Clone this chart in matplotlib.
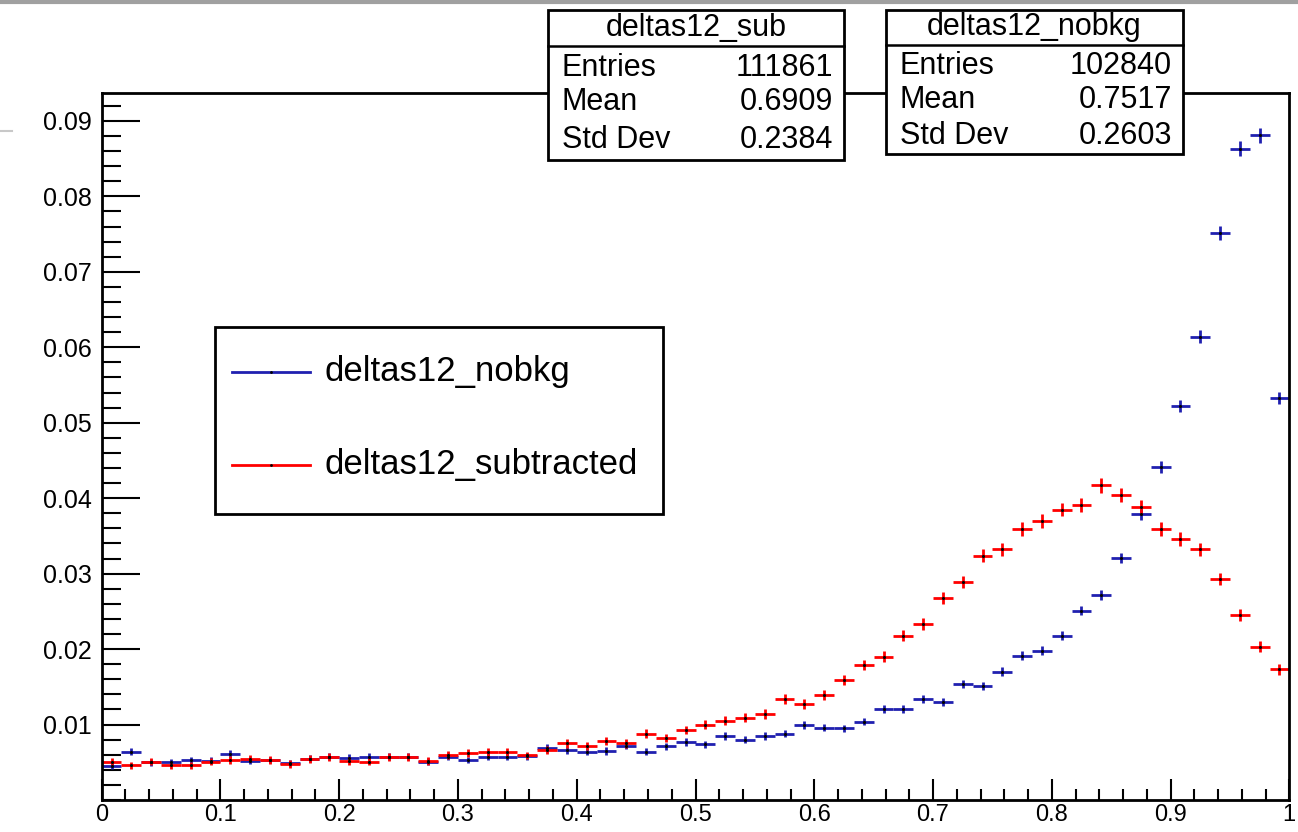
# %%

import numpy as np
import matplotlib
matplotlib.use("Agg")
import matplotlib.pyplot as plt
from matplotlib.patches import Rectangle
from matplotlib.lines import Line2D
from matplotlib.ticker import MultipleLocator

plt.rcParams["font.family"] = ["Liberation Sans", "DejaVu Sans"]
# %%

# 60 bins between 0 and 1, normalised contents
n_bins = 60
x_range = (0.0, 1.0)

nobkg = [0.0045, 0.0064, 0.0050, 0.0050, 0.0053, 0.0052, 0.0061, 0.0052, 0.0053, 0.0049,
         0.0055, 0.0057, 0.0056, 0.0057, 0.0057, 0.0057, 0.0051, 0.0057, 0.0053, 0.0057,
         0.0057, 0.0058, 0.0069, 0.0066, 0.0064, 0.0065, 0.0072, 0.0064, 0.0071, 0.0077,
         0.0074, 0.0085, 0.0080, 0.0085, 0.0088, 0.0099, 0.0096, 0.0095, 0.0104, 0.0120,
         0.0120, 0.0134, 0.0130, 0.0154, 0.0151, 0.0170, 0.0191, 0.0198, 0.0218, 0.0251,
         0.0272, 0.0321, 0.0379, 0.0441, 0.0522, 0.0614, 0.0751, 0.0863, 0.0881, 0.0533]

subtracted = [0.0051, 0.0046, 0.0051, 0.0046, 0.0046, 0.0051, 0.0053, 0.0055, 0.0053, 0.0048,
              0.0054, 0.0057, 0.0052, 0.0051, 0.0057, 0.0057, 0.0052, 0.0060, 0.0062, 0.0064,
              0.0064, 0.0059, 0.0066, 0.0075, 0.0071, 0.0078, 0.0075, 0.0088, 0.0082, 0.0093,
              0.0100, 0.0105, 0.0109, 0.0114, 0.0134, 0.0127, 0.0139, 0.0159, 0.0179, 0.0190,
              0.0218, 0.0233, 0.0268, 0.0289, 0.0324, 0.0332, 0.0359, 0.0370, 0.0385, 0.0391,
              0.0417, 0.0404, 0.0388, 0.0359, 0.0346, 0.0332, 0.0293, 0.0245, 0.0203, 0.0173]

entries_nobkg = 102840
entries_sub = 111861
err_floor = 0.0004  # weights make the small bins' errors bigger than plain poisson

stat_labels = ["Entries", "Mean", "Std Dev"]
stat_sub = ["111861", "0.6909", "0.2384"]
stat_nobkg = ["102840", "0.7517", "0.2603"]

legend_labels = ["deltas12_nobkg", "deltas12_subtracted"]

x_ticks = [0, 0.1, 0.2, 0.3, 0.4, 0.5, 0.6, 0.7, 0.8, 0.9, 1.0]
x_tick_labels = ["0", "0.1", "0.2", "0.3", "0.4", "0.5", "0.6", "0.7", "0.8", "0.9", "1"]
y_ticks = [0.01, 0.02, 0.03, 0.04, 0.05, 0.06, 0.07, 0.08, 0.09]
y_tick_labels = ["0.01", "0.02", "0.03", "0.04", "0.05", "0.06", "0.07", "0.08", "0.09"]
# %%

W, H = 1298, 832
blue = "#2020b0"
red = "#ff0000"


def px(x, y):
    # pixel position (from top left) -> figure fraction
    return x / W, 1 - y / H


edges = np.linspace(x_range[0], x_range[1], n_bins + 1)
centers = 0.5 * (edges[:-1] + edges[1:])
half_w = 0.5 * (edges[1] - edges[0])

v_nobkg = np.array(nobkg)
v_sub = np.array(subtracted)
err_nobkg = np.sqrt(v_nobkg / entries_nobkg + err_floor**2)
err_sub = np.sqrt(2 * v_sub / entries_sub + err_floor**2)

fig = plt.figure(figsize=(W / 100, H / 100), dpi=100)
ax = fig.add_axes([101.7 / W, 32 / H, (1289.3 - 101.7) / W, 707 / H])

ax.errorbar(centers, v_nobkg, xerr=half_w, yerr=err_nobkg, fmt=".", color="black",
            ms=2.5, ecolor=blue, elinewidth=2, capsize=0)
ax.errorbar(centers, v_sub, xerr=half_w, yerr=err_sub, fmt=".", color="black",
            ms=2.5, ecolor=red, elinewidth=2, capsize=0)

ax.set_xlim(0, 1)
ax.set_ylim(0, 0.0937)
ax.set_xticks(x_ticks)
ax.set_xticklabels(x_tick_labels)
ax.set_yticks(y_ticks)
ax.set_yticklabels(y_tick_labels)
ax.xaxis.set_minor_locator(MultipleLocator(0.02))
ax.yaxis.set_minor_locator(MultipleLocator(0.002))
ax.tick_params(axis="x", which="major", direction="in", length=15, width=1.5, labelsize=17, pad=3)
ax.tick_params(axis="x", which="minor", direction="in", length=8, width=1.5)
ax.tick_params(axis="y", which="major", direction="in", length=27, width=1.5, labelsize=18, pad=7)
ax.tick_params(axis="y", which="minor", direction="in", length=14, width=1.5)
for s in ax.spines.values():
    s.set_linewidth(2)

# legend box
x0, y0 = px(215, 514)
x1, y1 = px(663, 327)
fig.patches.append(Rectangle((x0, y0), x1 - x0, y1 - y0, transform=fig.transFigure,
                             facecolor="white", edgecolor="black", lw=2, zorder=5))
for lab, col, yy in zip(legend_labels, [blue, red], [372, 465]):
    a, b = px(232, yy)
    c, _ = px(310, yy)
    fig.lines.append(Line2D([a, c], [b, b], color=col, lw=2, transform=fig.transFigure, zorder=6))
    m, _ = px(271, yy)
    fig.lines.append(Line2D([m], [b], marker=".", ms=2, color="black", transform=fig.transFigure, zorder=7))
    t, _ = px(325, yy)
    fig.text(t, b, lab, fontsize=25, va="center", ha="left", zorder=7)


# stat boxes
def stat_box(left, right, top, sep, bottom, title, values, rows):
    a, b = px(left, bottom)
    c, d = px(right, top)
    fig.patches.append(Rectangle((a, b), c - a, d - b, transform=fig.transFigure,
                                 facecolor="white", edgecolor="black", lw=2, zorder=5))
    _, s = px(0, sep)
    fig.lines.append(Line2D([a, c], [s, s], color="black", lw=1.8, transform=fig.transFigure, zorder=6))
    cx, ty = px((left + right) / 2, (top + sep) / 2)
    fig.text(cx, ty, title, fontsize=22, ha="center", va="center", zorder=7)
    for lab, val, yy in zip(stat_labels, values, rows):
        lx, ly = px(left + 14, yy)
        rx, _ = px(right - 11, yy)
        fig.text(lx, ly, lab, fontsize=22, ha="left", va="center", zorder=7)
        fig.text(rx, ly, val, fontsize=22, ha="right", va="center", zorder=7)


stat_box(548, 844, 10, 46, 160, "deltas12_sub", stat_sub, [68, 102, 140])
stat_box(886, 1183, 10, 45, 154, "deltas12_nobkg", stat_nobkg, [66, 100, 136])

# screenshot leftovers: grey border on top, small grey dash on the left
fig.lines.append(Line2D([0, 1], [1 - 1.5 / H, 1 - 1.5 / H], color="#a0a0a0", lw=3, transform=fig.transFigure))
fig.lines.append(Line2D([0, 12 / W], [1 - 131 / H, 1 - 131 / H], color="#c8c8c8", lw=1.5, transform=fig.transFigure))

fig.savefig("out.png", dpi=100)
